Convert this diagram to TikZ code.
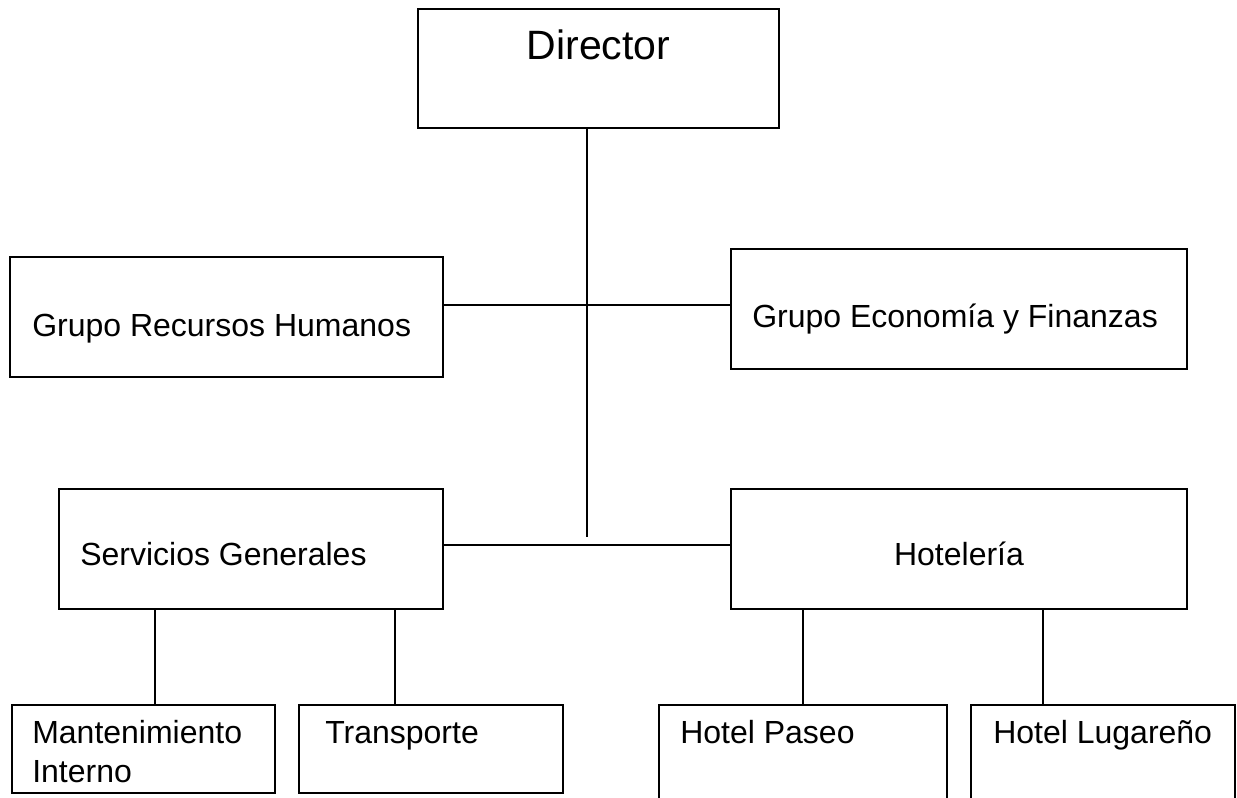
\documentclass[tikz,border=0pt]{standalone}
\usepackage{fontspec}
\setmainfont{Liberation Sans}
\usepackage{tikz}

\begin{document}
\begin{tikzpicture}[x=0.75pt,y=0.75pt,yscale=-1,xscale=1,
    box/.style 2 args={draw, line width=1pt, inner sep=0pt, minimum width=#1, minimum height=#2},
    lbl/.style={inner sep=0pt, font=\fontsize{24}{29.25}\selectfont},
    conn/.style={line width=0.8pt}]
\useasboundingbox (0,0) rectangle (1237,798);
\clip (0,0) rectangle (1237,798);
%Shape: Rectangle [Director]
\node [box={270.75pt}{89.25pt}] (dir) at (598.5,68.5) {};
%Shape: Rectangle [Recursos Humanos]
\node [box={324.75pt}{90pt}] (rh) at (226.5,317) {};
%Shape: Rectangle [Economia]
\node [box={342pt}{90pt}] (econ) at (959,309) {};
%Shape: Rectangle [Servicios]
\node [box={288pt}{90pt}] (serv) at (251,549) {};
%Shape: Rectangle [Hoteleria]
\node [box={342pt}{90pt}] (hot) at (959,549) {};
%Shape: Rectangle [Mantenimiento]
\node [box={197.25pt}{66pt}] (mant) at (143.5,749) {};
%Shape: Rectangle [Transporte]
\node [box={198pt}{66pt}] (trans) at (431,749) {};
%Shape: Rectangle [Paseo]
\node [box={216pt}{93.75pt}] (paseo) at (803,767.5) {};
%Shape: Rectangle [Lugareno]
\node [box={198pt}{93.75pt}] (lug) at (1103,767.5) {};

% Text Node
\node [lbl, font=\fontsize{30.75}{36}\selectfont, anchor=base] (dirt) at (598.5,60) {Director};
\node [lbl, anchor=base west] (rht) at (32,336) {Grupo Recursos Humanos};
\node [lbl, anchor=base west] (econt) at (752,327) {Grupo Economía y Finanzas};
\node [lbl, anchor=base west] (servt) at (80,565) {Servicios Generales};
\node [lbl, anchor=base] (hott) at (959,565) {Hotelería};
\node [lbl, anchor=base west, align=left] (mantt) at (32,782) {Mantenimiento\\Interno};
\node [lbl, anchor=base west] (transt) at (325,743) {Transporte};
\node [lbl, anchor=base west] (paseot) at (680,743) {Hotel Paseo};
\node [lbl, anchor=base west] (lugt) at (993,743) {Hotel Lugareño};

\coordinate (trunk) at (587,537);
\coordinate (upbar) at (587,305);
\coordinate (lowbar) at (587,545);
%Straight Lines
\draw [conn] (dir.south -| trunk) -- (trunk);
%Straight Lines
\draw [conn] (rh.east |- upbar) -- (econ.west |- upbar);
%Straight Lines
\draw [conn] (serv.east |- lowbar) -- (hot.west |- lowbar);
%Straight Lines
\draw [conn] (serv.south -| 155,0) -- (mant.north -| 155,0);
\draw [conn] (serv.south -| 395,0) -- (trans.north -| 395,0);
%Straight Lines
\draw [conn] (hot.south -| paseo.north) -- (paseo.north);
\draw [conn] (hot.south -| 1043,0) -- (lug.north -| 1043,0);
\end{tikzpicture}
\end{document}
